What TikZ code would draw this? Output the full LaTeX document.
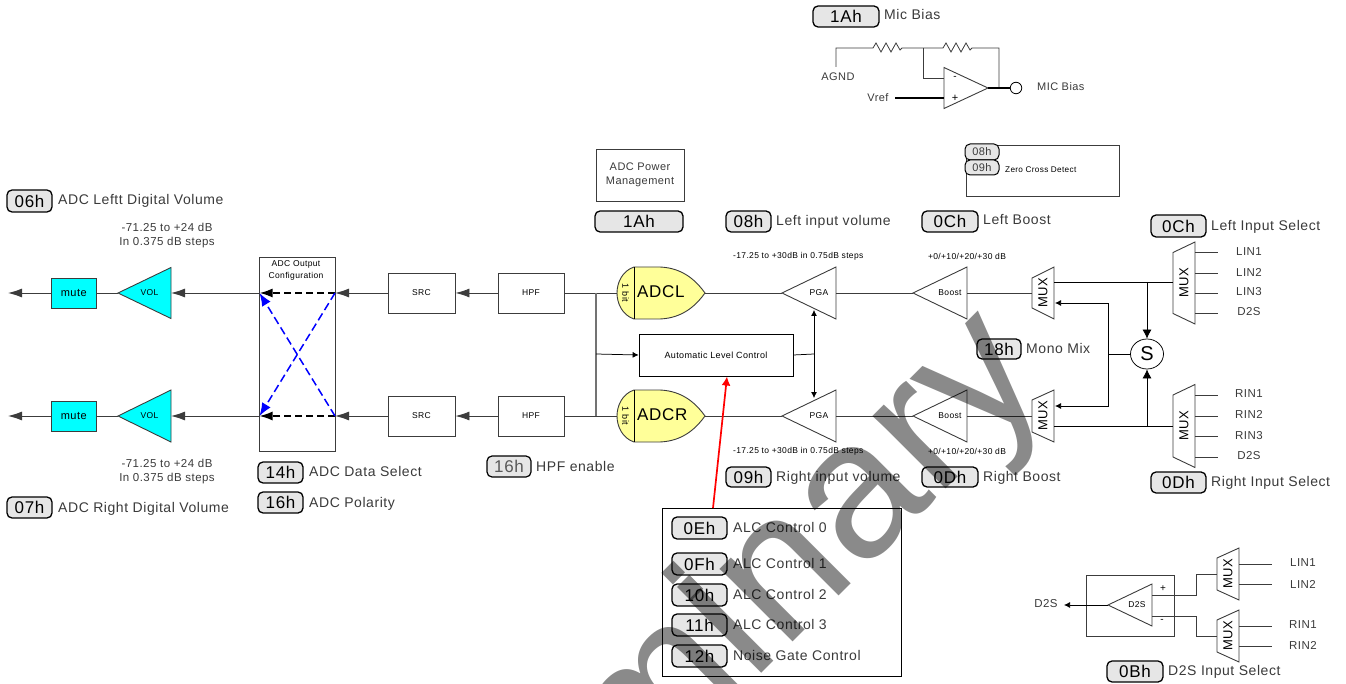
\documentclass[tikz,border=0pt]{standalone}
\usepackage{fontspec}
\usetikzlibrary{arrows.meta,calc,shapes.geometric}
\setmainfont{Liberation Sans}
\newfontfamily\spc[LetterSpace=4]{Liberation Sans}
\newfontfamily\wmfont{Liberation Sans}
\definecolor{linec}{HTML}{3C3C3C}
\definecolor{pillf}{HTML}{E6E6E6}
\definecolor{txtc}{HTML}{3A3A3A}
\definecolor{cyanf}{HTML}{00FFFF}
\definecolor{yelf}{HTML}{FFFF99}
\definecolor{wmc}{HTML}{8A8A8A}
\tikzset{
  wire/.style={draw=linec,line width=0.9pt},
  thinb/.style={draw=black,line width=0.75pt},
  bigtip/.style={-{Latex[length=14pt,width=9pt]}},
  smalltip/.style={-{Latex[length=6pt,width=6pt]}},
  midtip/.style={-{Latex[length=9pt,width=9pt]}},
  boxn/.style={draw=linec,line width=0.9pt,inner sep=0pt,align=center},
  tinytxt/.style={font=\spc\fontsize{8.5}{10}\selectfont,text=black,inner sep=0pt},
  lbl/.style={font=\spc\fontsize{14}{16}\selectfont,text=txtc,inner sep=0pt,anchor=base west,yshift=-5pt},
  sml/.style={font=\spc\fontsize{11.5}{14}\selectfont,text=txtc,inner sep=0pt,align=center},
  pillbox/.style={draw=black,line width=1.3pt,rounded corners=5pt,fill=pillf,inner sep=0pt,font=\spc\fontsize{17}{19}\selectfont},
}
\newcommand{\pl}[7][]{\node[pillbox,#1,minimum width={(#4-#2)*1pt},minimum height={(#5-#3)*1pt}] (#6) at ({(#2+#4)/2},{(#3+#5)/2}) {#7};}
\newcommand{\boxat}[7][]{\node[boxn,#1,minimum width={(#4-#2)*1pt},minimum height={(#5-#3)*1pt}] (#6) at ({(#2+#4)/2},{(#3+#5)/2}) {#7};}
\newcommand{\ampshape}[8]{%
  \coordinate (#1-tip) at (#2,#3);\coordinate (#1-base) at (#4,#3);
  \draw[wire,#8] (#2,#3) -- (#4,#3-#5) -- (#4,#3+#5) -- cycle;
  \node[tinytxt] (#1) at (#6,#3-0.5) {#7};}
\newcommand{\muxshape}[6]{%
  \coordinate (#1-l) at (#2,#4);\coordinate (#1-r) at (#3,#4);
  \draw[wire,fill=white] (#2,#4-#5) -- (#3,#4-#6) -- (#3,#4+#6) -- (#2,#4+#5) -- cycle;
  \node[font=\spc\fontsize{13}{13}\selectfont,rotate=90,inner sep=0pt] (#1) at ({(#2+#3)/2},#4) {MUX};}
\newcommand{\adcshape}[3]{%
  \coordinate (#1-in) at (617,#2);\coordinate (#1-out) at (705,#2);
  \draw[wire,fill=yelf] (634,#2-26) -- (660,#2-26) .. controls (684,#2-25) and (697,#2-11) .. (705,#2) .. controls (697,#2+11) and (684,#2+25) .. (660,#2+26) -- (634,#2+26) .. controls (622,#2+22) and (617,#2+10) .. (617,#2) .. controls (617,#2-10) and (622,#2-22) .. (634,#2-26) -- cycle;
  \draw[black,line width=0.9pt] (634,#2-26) -- (634,#2+26);
  \node[font=\spc\fontsize{9}{9}\selectfont,rotate=-90,inner sep=0pt] (#1-bit) at (625.5,#2) {1 bit};
  \node[font=\spc\fontsize{17}{19}\selectfont,inner sep=0pt,anchor=west] (#1) at (637,#2-1) {#3};}
\begin{document}
\begin{tikzpicture}[x=1pt,y=-1pt]
\useasboundingbox (0,0) rectangle (1346,684);
% ---------- Mic bias
\pl{813}{6}{879}{27}{pmic}{1Ah}
\node[lbl] (tmic) at (884,15) {Mic Bias};
\coordinate (agnd) at (836,67);
\coordinate (agc) at (836,48);
\coordinate (r1a) at (873,48);
\coordinate (r1b) at (902,48);
\coordinate (jn) at (923,48);
\coordinate (r2a) at (943,48);
\coordinate (r2b) at (972,48);
\coordinate (fb) at (999,48);
\coordinate (fbo) at (999,88);
\coordinate (jnd) at (923,78);
\coordinate (om) at (944,78);
\coordinate (op) at (944,98);
\coordinate (vr) at (895,98);
\draw[wire,line width=0.8pt] (agnd) -- (agc) -- (r1a) -- (876,43) -- (881,52) -- (886,43) -- (891,52) -- (896,43) -- (900,50) -- (r1b) -- (jn) -- (r2a) -- (946,43) -- (951,52) -- (956,43) -- (961,52) -- (966,43) -- (970,50) -- (r2b) -- (fb) -- (fbo);
\draw[wire,line width=0.8pt] (jn) -- (jnd) -- (om);
\ampshape{opamp}{988}{88}{944}{20.5}{970}{}{}
\node[font=\fontsize{10}{10}\selectfont,inner sep=0pt] (opm) at (955,78) {-};
\node[font=\fontsize{11}{11}\selectfont,inner sep=0pt] (opp) at (955,98) {+};
\node[draw=black,circle,line width=0.8pt,minimum size=11.5pt,inner sep=0pt] (micc) at (1016,88) {};
\draw[black,line width=1.7pt] (opamp-tip) -- (micc.west);
\draw[black,line width=1.7pt] (vr) -- (op);
\node[sml,font=\spc\fontsize{11}{12}\selectfont] (tagnd) at (838,77) {AGND};
\node[sml,font=\spc\fontsize{11}{12}\selectfont] (tvref) at (878,98) {Vref};
\node[sml,font=\spc\fontsize{11}{12}\selectfont,anchor=west] (tmb) at (1037,87) {MIC Bias};
% ---------- zero cross
\boxat{966}{145}{1119}{196}{zc}{}
\pl[line width=1pt,font=\spc\fontsize{11}{12}\selectfont,text=txtc,rounded corners=5pt]{965}{144}{999}{160}{p08z}{08h}
\pl[line width=1pt,font=\spc\fontsize{11}{12}\selectfont,text=txtc,rounded corners=5pt]{965}{160}{999}{175}{p09z}{09h}
\node[tinytxt,font=\spc\fontsize{8.2}{9}\selectfont,anchor=west] (tzc) at (1005,170) {Zero Cross Detect};
% ---------- left column
\pl{7}{190}{52}{212}{p06}{06h}
\node[lbl] (t06) at (58,200) {ADC Leftt Digital Volume};
\node[sml] (t71a) at (167,236) {-71.25 to +24 dB\\In 0.375 dB steps};
\node[sml] (t71b) at (167,471.5) {-71.25 to +24 dB\\In 0.375 dB steps};
\pl{7}{497}{52}{518}{p07}{07h}
\node[lbl] (t07) at (58,507) {ADC Right Digital Volume};
\boxat[fill=cyanf,font=\spc\fontsize{11}{12}\selectfont]{51.5}{278}{96}{308}{muteL}{mute}
\boxat[fill=cyanf,font=\spc\fontsize{11}{12}\selectfont]{51.5}{401}{96}{431}{muteR}{mute}
\ampshape{volL}{118}{293}{171}{25.5}{149.5}{VOL}{fill=cyanf}
\ampshape{volR}{118}{416}{171}{26}{149.5}{VOL}{fill=cyanf}
\coordinate (outL) at (8,293);
\coordinate (outR) at (8,416);
\draw[wire,bigtip] (muteL.west) -- (outL);
\draw[wire,bigtip] (muteR.west) -- (outR);
\draw[wire] (volL-tip) -- (muteL.east);
\draw[wire] (volR-tip) -- (muteR.east);
% ---------- output config
\boxat{259}{257}{335}{451}{cfg}{}
\node[tinytxt,font=\spc\fontsize{8.5}{11.5}\selectfont,align=center] (tcfg) at (296,270.5) {ADC Output\\Configuration};
\coordinate (cLl) at (259.5,293);
\coordinate (cLr) at (335,293);
\coordinate (cRl) at (259.5,416);
\coordinate (cRr) at (335,416);
\draw[wire,bigtip] (cLl) -- (volL-base);
\draw[wire,bigtip] (cRl) -- (volR-base);
\draw[black,line width=1.9pt,dash pattern=on 7pt off 4pt,-{Latex[length=13pt,width=9pt]}] (cLr) -- (cLl);
\draw[black,line width=1.4pt,dash pattern=on 7pt off 4pt,-{Latex[length=13pt,width=9pt]}] (cRr) -- (cRl);
\draw[blue,line width=1.5pt,dash pattern=on 8pt off 4pt,-{Latex[length=13pt,width=10pt]}] (cRr) -- (cLl);
\draw[blue,line width=1.5pt,dash pattern=on 8pt off 4pt,-{Latex[length=13pt,width=10pt]}] (cLr) -- (cRl);
\pl{258}{462}{303}{483}{p14}{14h}
\node[lbl] (t14) at (309,471) {ADC Data Select};
\pl{258}{492}{303}{513}{p16}{16h}
\node[lbl] (t16) at (309,502) {ADC Polarity};
% ---------- SRC / HPF
\boxat[font=\spc\fontsize{8.5}{10}\selectfont]{388}{273}{455}{313}{srcL}{SRC}
\boxat[font=\spc\fontsize{8.5}{10}\selectfont]{388}{396}{455}{436}{srcR}{SRC}
\boxat[font=\spc\fontsize{8.5}{10}\selectfont]{498}{273}{564}{313}{hpfL}{HPF}
\boxat[font=\spc\fontsize{8.5}{10}\selectfont]{498}{396}{564}{436}{hpfR}{HPF}
\draw[wire,bigtip] (srcL.west) -- (cLr);
\draw[wire,bigtip] (srcR.west) -- (cRr);
\draw[wire,bigtip] (hpfL.west) -- (srcL.east);
\draw[wire,bigtip] (hpfR.west) -- (srcR.east);
\pl[fill=pillf,text=black!65,line width=1.2pt]{487}{456}{531}{477}{p16b}{16h}
\node[lbl] (t16b) at (536,466) {HPF enable};
% ---------- ADCs
\adcshape{adcl}{293}{ADCL}
\adcshape{adcr}{416}{ADCR}
\coordinate (jL) at (596,293);
\coordinate (jM) at (596,354);
\coordinate (jR) at (596,416);
\draw[wire] (hpfL.east) -- (adcl-in);
\draw[wire] (hpfR.east) -- (adcr-in);
\draw[draw=black!55,line width=1.3pt] (jL) -- (jR);
\boxat[font=\spc\fontsize{9}{10}\selectfont,thinb]{639}{334}{793}{376}{alc}{Automatic Level Control}
\draw[thinb,smalltip] (jM) -- (alc.west);
\boxat[font=\spc\fontsize{11}{13.5}\selectfont,text=txtc]{596}{149}{684}{201}{pwr}{ADC Power\\Management}
\pl{595}{211}{683}{232}{p1a}{1Ah}
\pl{726}{211}{771}{232}{p08}{08h}
\node[lbl] (t08) at (776,221) {Left input volume};
\pl{726}{467}{771}{487}{p09}{09h}
\node[lbl] (t09) at (776,476) {Right input volume};
\node[tinytxt,anchor=west] (tpgaa) at (733,256) {-17.25 to +30dB in 0.75dB steps};
\node[tinytxt,anchor=west] (tpgab) at (733,451) {-17.25 to +30dB in 0.75dB steps};
% ---------- PGA / Boost
\ampshape{pgaL}{782}{293}{836}{26}{819}{PGA}{}
\ampshape{pgaR}{782}{416}{836}{26}{819}{PGA}{}
\ampshape{bstL}{913}{293}{967}{26}{950}{Boost}{}
\ampshape{bstR}{913}{416}{967}{26}{950}{Boost}{}
\draw[wire] (adcl-out) -- (pgaL-tip);
\draw[wire] (adcr-out) -- (pgaR-tip);
\draw[wire] (pgaL-base) -- (bstL-tip);
\draw[wire] (pgaR-base) -- (bstR-tip);
\coordinate (aj) at (814,354);
\coordinate (ajt) at (814,310);
\coordinate (ajb) at (814,398);
\draw[thinb] (alc.east) -- (aj);
\draw[thinb,smalltip] (aj) -- (ajt);
\draw[thinb,smalltip] (aj) -- (ajb);
\pl{922}{211}{978}{232}{p0c}{0Ch}
\node[lbl] (t0c) at (983,220) {Left Boost};
\pl{922}{467}{978}{487}{p0d}{0Dh}
\node[lbl] (t0d) at (983,476) {Right Boost};
\node[tinytxt] (tbsa) at (967,256) {+0/+10/+20/+30 dB};
\node[tinytxt] (tbsb) at (967,451) {+0/+10/+20/+30 dB};
\pl{977}{339}{1021}{359}{p18}{18h}
\node[lbl] (t18) at (1026,348) {Mono Mix};
% ---------- MUXes
\muxshape{m1}{1032}{1054}{293}{15}{26}
\muxshape{m2}{1032}{1054}{416}{16}{26}
\muxshape{inL}{1173}{1195}{283}{30.5}{41}
\muxshape{inR}{1173}{1195}{426}{31}{41.5}
\draw[wire] (bstL-base) -- (m1-l);
\draw[wire] (bstR-base) -- (m2-l);
\coordinate (m1o) at (1054,282);
\coordinate (inLi) at (1173,282);
\coordinate (m2o) at (1054,426);
\coordinate (inRi) at (1173,426);
\coordinate (sjt) at (1147,282);
\coordinate (sjb) at (1147,426);
\draw[thinb] (m1o) -- (inLi);
\draw[thinb] (m2o) -- (inRi);
\node[thinb,ellipse,minimum width=33pt,minimum height=30pt,inner sep=0pt,font=\fontsize{20}{20}\selectfont] (sum) at (1147,354) {S};
\draw[thinb,midtip] (sjt) -- (sum.north);
\draw[thinb,midtip] (sjb) -- (sum.south);
\coordinate (mj) at (1108,354);
\coordinate (mjt) at (1108,303);
\coordinate (mjb) at (1108,406);
\coordinate (m1i) at (1055,303);
\coordinate (m2i) at (1055,406);
\draw[thinb] (sum.west) -- (mj);
\draw[thinb,smalltip] (mj) -- (mjt) -- (m1i);
\draw[thinb,smalltip] (mj) -- (mjb) -- (m2i);
% ---------- inputs
\foreach \yy/\lab/\ty in {252/LIN1/252,273/LIN2/272,293/LIN3/292,313/D2S/312,395/RIN1/394,416/RIN2/414,436/RIN3/436,457/D2S/456}{
  \coordinate (ia) at (1195,\yy);
  \coordinate (ib) at (1218,\yy);
  \draw[wire] (ia) -- (ib);
  \node[sml,font=\spc\fontsize{11.5}{12}\selectfont] (il\yy) at (1249,\ty) {\lab};
}
\pl{1151}{215}{1206}{237}{pLi}{0Ch}
\node[lbl] (tLi) at (1211,226) {Left Input Select};
\pl{1151}{472}{1206}{493}{pRi}{0Dh}
\node[lbl] (tRi) at (1211,481) {Right Input Select};
% ---------- ALC panel
\coordinate (redo) at (713,508);
\coordinate (redt) at (727,376.5);
\boxat[thinb]{662}{508}{901}{676}{alcp}{}
\draw[red,line width=1.7pt,-{Latex[length=9pt,width=9pt]}] (redo) -- (redt);
\pl{672}{517}{727}{539}{p0e}{0Eh}
\pl{672}{553}{727}{575}{p0f}{0Fh}
\pl{672}{584}{727}{606}{p10}{10h}
\pl{672}{614}{727}{636}{p11}{11h}
\pl{672}{645}{727}{667}{p12}{12h}
\node[lbl] (t0e) at (733,527) {ALC Control 0};
\node[lbl] (t0f) at (733,563) {ALC Control 1};
\node[lbl] (t10) at (733,594) {ALC Control 2};
\node[lbl] (t11) at (733,624) {ALC Control 3};
\node[lbl] (t12) at (733,655) {Noise Gate Control};
% ---------- D2S
\boxat{1086}{575}{1174}{636}{d2sb}{}
\ampshape{d2s}{1108}{605}{1152}{21}{1137}{D2S}{}
\node[font=\fontsize{10}{10}\selectfont,inner sep=0pt] (dp) at (1163,589) {+};
\node[font=\fontsize{10}{10}\selectfont,inner sep=0pt] (dm) at (1162,621) {-};
\muxshape{mu}{1217}{1239}{574}{16}{26}
\muxshape{md}{1217}{1239}{636}{16}{26}
\coordinate (dpo) at (1152,595);
\coordinate (dmo) at (1152,616);
\coordinate (dpc) at (1196,595);
\coordinate (dmc) at (1196,616);
\coordinate (dpu) at (1196,574);
\coordinate (dmu) at (1196,636);
\draw[wire] (dpo) -- (dpc) -- (dpu) -- (mu-l);
\draw[wire] (dmo) -- (dmc) -- (dmu) -- (md-l);
\coordinate (d2sout) at (1064,605);
\draw[thinb,smalltip] (d2s-tip) -- (d2sout);
\node[sml,font=\spc\fontsize{11.5}{12}\selectfont] (td2s) at (1046,604) {D2S};
\foreach \yy/\lab/\ty in {564/LIN1/563,584/LIN2/584,626/RIN1/625,646/RIN2/645}{
  \coordinate (ja) at (1239,\yy);
  \coordinate (jb) at (1272,\yy);
  \draw[wire] (ja) -- (jb);
  \node[sml,font=\spc\fontsize{11.5}{12}\selectfont] (jl\yy) at (1303,\ty) {\lab};
}
\pl{1107}{661}{1163}{682}{p0b}{0Bh}
\node[lbl] (t0b) at (1168,670) {D2S Input Select};
% ---------- watermark
\begin{scope}[blend mode=multiply]
\clip (0,0) rectangle (1346,684);
\node[rotate=45,anchor=base east,inner sep=0pt,text=wmc,font=\wmfont\fontsize{195}{195}\selectfont] (wm) at (1052,383) {Preliminary};
\coordinate (ia1) at (697.0,594.8);
\coordinate (ia2) at (683.1,580.9);
\draw[wmc,line width=17.1pt] (ia1) -- (ia2);
\end{scope}
\end{tikzpicture}
\end{document}
